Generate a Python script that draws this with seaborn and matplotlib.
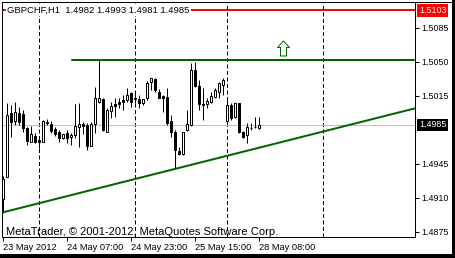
import matplotlib
matplotlib.use("Agg")
import numpy as np
import pandas as pd
import matplotlib.pyplot as plt
import seaborn as sns
from matplotlib.path import Path
from matplotlib.lines import Line2D
from matplotlib.patches import Rectangle
import matplotlib.transforms as mtransforms

# ---------------- data ----------------
symbol_header = "GBPCHF,H1  1.4982 1.4993 1.4981 1.4985"
watermark = "MetaTrader, \u00a9 2001-2012, MetaQuotes Software Corp."

opens = [1.4909, 1.4931, 1.4997, 1.4989, 1.4997, 1.4996, 1.4982, 1.4967, 1.4974, 1.4969,
         1.4967, 1.4988, 1.4986, 1.4981, 1.4978, 1.4972, 1.4977, 1.4973, 1.4975, 1.4983,
         1.4986, 1.4985, 1.4963, 1.4986, 1.5009, 1.5012, 1.4978, 1.4999, 1.5007, 1.5009,
         1.5011, 1.5011, 1.5018, 1.5013, 1.5012, 1.5008, 1.5013, 1.5029, 1.5032, 1.5019,
         1.5015, 1.5014, 1.4989, 1.4978, 1.4958, 1.4955, 1.4980, 1.4985, 1.5042, 1.5025,
         1.5007, 1.5006, 1.5009, 1.5014, 1.5019, 1.5026, 1.4989, 1.5005, 1.4993, 1.5008,
         1.4978, 1.4975, 1.4982, 1.4983, 1.4982]
highs = [1.4932, 1.5008, 1.5005, 1.5009, 1.5003, 1.5000, 1.4983, 1.4984, 1.4977, 1.4973,
         1.4990, 1.4991, 1.4989, 1.4983, 1.4980, 1.4976, 1.4980, 1.4977, 1.5007, 1.5008,
         1.4988, 1.4987, 1.4988, 1.5024, 1.5052, 1.5013, 1.5002, 1.5009, 1.5013, 1.5013,
         1.5016, 1.5023, 1.5019, 1.5018, 1.5016, 1.5012, 1.5030, 1.5033, 1.5033, 1.5022,
         1.5016, 1.5023, 1.4995, 1.4980, 1.4962, 1.4978, 1.5000, 1.5049, 1.5050, 1.5031,
         1.5023, 1.5013, 1.5019, 1.5023, 1.5029, 1.5033, 1.5013, 1.5008, 1.5008, 1.5008,
         1.4979, 1.4987, 1.4987, 1.4993, 1.4993]
lows = [1.4894, 1.4931, 1.4973, 1.4985, 1.4985, 1.4978, 1.4964, 1.4967, 1.4966, 1.4961,
        1.4967, 1.4985, 1.4977, 1.4974, 1.4967, 1.4970, 1.4966, 1.4964, 1.4972, 1.4962,
        1.4976, 1.4959, 1.4963, 1.4977, 1.5008, 1.4979, 1.4978, 1.4992, 1.4993, 1.5002,
        1.5000, 1.5009, 1.5003, 1.5008, 1.5002, 1.5005, 1.5011, 1.5021, 1.5019, 1.5013,
        1.4998, 1.4985, 1.4973, 1.4941, 1.4954, 1.4954, 1.4979, 1.4984, 1.5024, 1.5000,
        1.4990, 1.5002, 1.5008, 1.5013, 1.5013, 1.5016, 1.4987, 1.4990, 1.4992, 1.4977,
        1.4972, 1.4966, 1.4980, 1.4982, 1.4981]
closes = [1.4929, 1.4995, 1.4988, 1.4998, 1.4988, 1.4982, 1.4968, 1.4976, 1.4967, 1.4967,
          1.4989, 1.4987, 1.4979, 1.4976, 1.4972, 1.4976, 1.4972, 1.4975, 1.4984, 1.4986,
          1.4984, 1.4963, 1.4986, 1.5013, 1.5013, 1.4980, 1.5000, 1.5004, 1.5004, 1.5007,
          1.5009, 1.5016, 1.5009, 1.5012, 1.5008, 1.5012, 1.5028, 1.5033, 1.5021, 1.5013,
          1.5013, 1.4987, 1.4978, 1.4959, 1.4955, 1.4978, 1.4986, 1.5042, 1.5025, 1.5007,
          1.5005, 1.5010, 1.5015, 1.5021, 1.5028, 1.5031, 1.5005, 1.4992, 1.5008, 1.4978,
          1.4973, 1.4983, 1.4982, 1.4983, 1.4985]

time_tick_bars = [0, 16, 32, 48, 64]
time_tick_labels = ["23 May 2012", "24 May 07:00", "24 May 23:00", "25 May 15:00", "28 May 08:00"]
day_separator_bars = [9, 33, 56, 80]
price_ticks = [1.4875, 1.4910, 1.4945, 1.5015, 1.5050, 1.5085]
red_level = 1.5103
green_level = 1.5052
green_start_bar = 17.25
current_price = 1.4985
trend_bars = [0, 103]
trend_prices = [1.4895, 1.5002]
arrow_bar = 70
arrow_price = 1.5064
x_range = (-0.125, 102.875)
y_range = (1.48701, 1.51120)

# ---------------- style ----------------
sns.set_style("white")
plt.rcParams["font.family"] = ["Liberation Sans", "DejaVu Sans"]

W, H = 456, 258
fig = plt.figure(figsize=(W / 100, H / 100), dpi=100)
fig.patch.set_facecolor("white")
ax = fig.add_axes([2.5 / W, 1 - 236.5 / H, 412 / W, 235 / H])
ax.set_facecolor("white")
ax.set_xlim(*x_range)
ax.set_ylim(*y_range)

PX = 0.72  # one pixel in points
GREEN = "#006400"

df = pd.DataFrame({"bar": np.arange(len(opens)), "open": opens, "high": highs,
                   "low": lows, "close": closes})

# grid separators
for b in day_separator_bars:
    ax.axvline(b, color="black", lw=PX, linestyle=(0, (4, 2.5)), zorder=1)

# current price line
ax.axhline(current_price, color="#C0C0C0", lw=PX, zorder=1)

# candles
ax.vlines(df["bar"], df["low"], df["high"], color="black", lw=PX, zorder=3)
bull = df["close"] >= df["open"]
bottoms = np.minimum(df["open"], df["close"])
heights = np.maximum(np.abs(df["close"] - df["open"]), 1e-7)
ax.bar(df["bar"], heights, bottom=bottoms, width=0.5,
       color=np.where(bull, "white", "black"), edgecolor="black", linewidth=PX, zorder=4)

# levels
ax.axhline(red_level, color="#FF0000", lw=2 * PX, zorder=2)
lev = pd.DataFrame({"bar": [green_start_bar, x_range[1]], "price": [green_level, green_level]})
sns.lineplot(data=lev, x="bar", y="price", color=GREEN, lw=2 * PX, ax=ax, zorder=5)
trend = pd.DataFrame({"bar": trend_bars, "price": trend_prices})
sns.lineplot(data=trend, x="bar", y="price", color=GREEN, lw=2 * PX, ax=ax, zorder=5)

# arrow object
arrow_path = Path([(0, 1), (-0.8, 0.13), (-0.4, 0.13), (-0.4, -1), (0.4, -1),
                   (0.4, 0.13), (0.8, 0.13), (0, 1)],
                  [Path.MOVETO] + [Path.LINETO] * 6 + [Path.CLOSEPOLY])
ax.plot([arrow_bar], [arrow_price], marker=arrow_path, markersize=15 * PX,
        markerfacecolor="white", markeredgecolor=GREEN, markeredgewidth=PX,
        linestyle="none", zorder=6)

# header + watermark
ax.text((7 - 2.5) / 412, (236.5 - 10) / 235, symbol_header, transform=ax.transAxes,
        fontsize=6.8, va="center", ha="left", color="black", zorder=7,
        bbox=dict(boxstyle="square,pad=0.12", fc="white", ec="none"))
ax.text((6 - 2.5) / 412, 0.006, watermark, transform=ax.transAxes,
        fontsize=8.0, va="baseline", ha="left", color="black", zorder=7)

# axes
ax.set_xlabel("")
ax.set_ylabel("")
ax.yaxis.tick_right()
ax.set_yticks(price_ticks)
ax.set_yticklabels([f"{p:.4f}" for p in price_ticks])
ax.tick_params(axis="y", which="both", right=True, left=False, length=3, width=PX,
               pad=2, labelsize=6.4, direction="out", colors="black")
ax.set_xticks(time_tick_bars)
ax.set_xticklabels(time_tick_labels)
for lbl in ax.get_xticklabels():
    lbl.set_horizontalalignment("left")
ax.tick_params(axis="x", which="both", bottom=True, length=3, width=PX, pad=1.5,
               labelsize=6.7, direction="out", colors="black")
for s in ax.spines.values():
    s.set_visible(True)
    s.set_color("black")
    s.set_linewidth(PX)

# price boxes on the scale
blend = mtransforms.blended_transform_factory(ax.transAxes, ax.transData)
bx = 1 + 4.5 / 412
ax.text(bx, red_level, f"{red_level:.4f}", transform=blend, fontsize=6.4, color="white",
        va="center", ha="left", zorder=8, clip_on=False,
        bbox=dict(boxstyle="square,pad=0.2", fc="#FF0000", ec="none"))
ax.text(bx, current_price, f"{current_price:.4f}", transform=blend, fontsize=6.4, color="white",
        va="center", ha="left", zorder=8, clip_on=False,
        bbox=dict(boxstyle="square,pad=0.2", fc="black", ec="none"))

# window frame
fig.add_artist(Line2D([2.5 / W, 452 / W], [1 - 1.5 / H] * 2, color="black", lw=PX,
                      transform=fig.transFigure))
fig.add_artist(Rectangle((452 / W, 0), 4 / W, 1, transform=fig.transFigure,
                         color="black", lw=0))
fig.add_artist(Rectangle((0, 0), 1, 4 / H, transform=fig.transFigure,
                         color="black", lw=0))

fig.savefig("out.png", dpi=100)
